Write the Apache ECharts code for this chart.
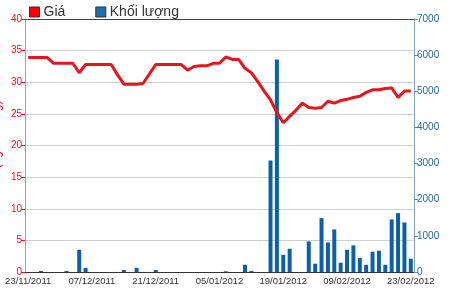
<!DOCTYPE html>
<html><head><meta charset="utf-8">
<script src="https://cdn.jsdelivr.net/npm/echarts@6/dist/echarts.min.js"></script>
<style>html,body{margin:0;padding:0;background:#fff}#c{width:450px;height:290px}</style>
</head><body><div id="c"></div>
<script>
const dates = ["23/11/2011","24/11/2011","25/11/2011","28/11/2011","29/11/2011","30/11/2011","01/12/2011","02/12/2011","05/12/2011","06/12/2011",
"07/12/2011","08/12/2011","09/12/2011","12/12/2011","13/12/2011","14/12/2011","15/12/2011","16/12/2011","19/12/2011","20/12/2011",
"21/12/2011","22/12/2011","23/12/2011","26/12/2011","27/12/2011","28/12/2011","29/12/2011","30/12/2011","03/01/2012","04/01/2012",
"05/01/2012","06/01/2012","09/01/2012","10/01/2012","11/01/2012","12/01/2012","13/01/2012","16/01/2012","17/01/2012","18/01/2012",
"19/01/2012","20/01/2012","30/01/2012","31/01/2012","01/02/2012","02/02/2012","03/02/2012","06/02/2012","07/02/2012","08/02/2012",
"09/02/2012","10/02/2012","13/02/2012","14/02/2012","15/02/2012","16/02/2012","17/02/2012","20/02/2012","21/02/2012","22/02/2012",
"23/02/2012"];
const price = [33.9,33.9,33.9,33.9,33.0,33.0,33.0,33.0,31.5,32.8,
32.8,32.8,32.8,32.8,31.2,29.7,29.7,29.7,29.8,31.3,
32.8,32.8,32.8,32.8,32.8,31.9,32.5,32.6,32.6,33.0,
33.0,34.0,33.6,33.6,32.2,31.5,30.1,28.6,27.2,25.2,
23.6,24.6,25.6,26.7,26.0,25.9,26.0,27.0,26.7,27.1,
27.3,27.6,27.8,28.4,28.8,28.8,29.0,29.1,27.6,28.6,
28.6];
const volume = [0,0,30,0,0,0,30,0,617,110,
0,0,0,0,0,55,0,110,0,0,
55,0,0,0,0,0,0,0,0,0,
0,20,0,0,200,30,0,0,3085,5880,
478,644,0,0,846,229,1492,818,1178,257,
616,736,386,200,561,589,200,1455,1630,1370,
367];
const seriesNames = ["Giá","Khối lượng"];
const leftTicks = [0,5,10,15,20,25,30,35,40];
const rightTicks = [0,1000,2000,3000,4000,5000,6000,7000];

const chart = echarts.init(document.getElementById('c'));
const RED = '#e8141b', BLUE = '#0d5fa6';
chart.setOption({
  animation:false,
  textStyle:{fontFamily:'Liberation Sans, Arial, sans-serif'},
  legend:{
    left:29, top:5, padding:0, itemWidth:10, itemHeight:10, itemGap:30,
    icon:'rect',
    textStyle:{fontSize:14, color:'#333', padding:[0,0,0,-1]},
    data:[
      {name:seriesNames[0], itemStyle:{color:'#ff0000', borderColor:'#333', borderWidth:1}},
      {name:seriesNames[1], itemStyle:{color:'#1f6fb0', borderColor:'#333', borderWidth:1}}
    ]
  },
  grid:{left:25, right:36, top:19, bottom:18, outerBoundsMode:'none', containLabel:false},
  xAxis:[{
    type:'category', data:dates, boundaryGap:true,
    axisLine:{onZero:false, lineStyle:{color:'#333', width:1}},
    axisTick:{interval:9, alignWithLabel:true, length:4, lineStyle:{color:'#333'}},
    axisLabel:{interval:9, fontSize:9.5, color:'#333', margin:4, showMaxLabel:true, showMinLabel:true}
  },{
    type:'category', data:dates, position:'top',
    axisLine:{show:true, onZero:false, lineStyle:{color:'#444', width:1}},
    axisTick:{show:false}, axisLabel:{show:false}
  }],
  yAxis:[{
    type:'value', min:leftTicks[0], max:leftTicks[leftTicks.length-1], interval:5,
    name:'Giá (nghìn đồng)', nameLocation:'middle', nameGap:22, nameMoveOverlap:false,
    nameTextStyle:{color:RED, fontSize:12},
    axisLine:{show:true, lineStyle:{color:'#f08080'}},
    axisTick:{show:true, length:4, lineStyle:{color:RED}},
    axisLabel:{color:RED, fontSize:10, margin:3, showMaxLabel:true, showMinLabel:true},
    splitLine:{show:true, lineStyle:{color:'#cfcfcf', width:1}}
  },{
    type:'value', min:rightTicks[0], max:rightTicks[rightTicks.length-1], interval:1000,
    position:'right',
    axisLine:{show:true, lineStyle:{color:'#7fa6c0'}},
    axisTick:{show:true, length:4, lineStyle:{color:'#5d8db0'}},
    axisLabel:{color:'#2a6a9a', fontSize:10, margin:3, showMaxLabel:true, showMinLabel:true,
      formatter:function(v){return String(v);}},
    splitLine:{show:false}
  }],
  series:[{
    name:seriesNames[1], type:'bar', yAxisIndex:1, data:volume, barWidth:4,
    itemStyle:{color:BLUE}
  },{
    name:seriesNames[0], type:'line', yAxisIndex:0, data:price, symbol:'none',
    lineStyle:{color:RED, width:3}, itemStyle:{color:RED}, z:5
  }]
});
</script></body></html>
